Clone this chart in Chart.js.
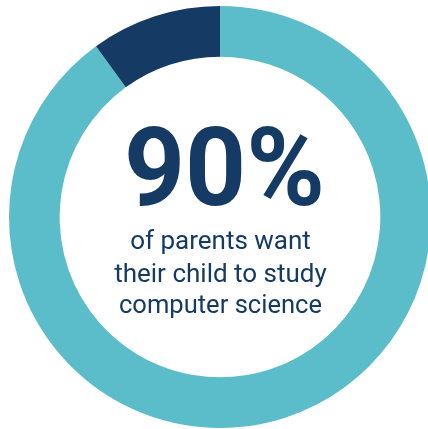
<!DOCTYPE html>
<html>
<head>
<meta charset="utf-8">
<script src="https://cdn.jsdelivr.net/npm/chart.js@4/dist/chart.umd.min.js"></script>
<style>
  html, body { margin: 0; padding: 0; background: #fff; overflow: hidden; }
  body { width: 428px; height: 429px; position: relative; }
  #wrap { position: absolute; left: 9px; top: 5.5px; width: 422px; height: 422px; }
</style>
</head>
<body>
<div id="wrap"><canvas id="donut"></canvas></div>
<script>
// share of parents
const labels = ["Want child to study CS", "Other"];
const values = [90, 10];
const colors = ["#5bbdc9", "#153b65"];

const headline = "90%";
const caption = ["of parents want", "their child to study", "computer science"];

const centerText = {
  id: "centerText",
  afterDraw(chart) {
    const ctx = chart.ctx;
    const arc = chart.getDatasetMeta(0).data[0];
    const cx = arc.x, cy = arc.y;
    ctx.save();
    ctx.fillStyle = "#153b65";
    ctx.textAlign = "center";
    ctx.textBaseline = "alphabetic";
    ctx.font = "bold 110px Roboto";
    ctx.fillText(headline, cx + 4.5, cy - 12.5, 201);
    ctx.font = "26px Roboto";
    const widths = [183, 215, 203];
    const base = [31.5, 64.5, 95.5];
    caption.forEach((t, i) => ctx.fillText(t, cx + 0.5, cy + base[i], widths[i]));
    ctx.restore();
  }
};

new Chart(document.getElementById("donut"), {
  type: "doughnut",
  data: {
    labels: labels,
    datasets: [{ data: values, backgroundColor: colors, borderWidth: 0 }]
  },
  options: {
    responsive: true,
    maintainAspectRatio: false,
    animation: false,
    cutout: "76%",
    plugins: { legend: { display: false }, tooltip: { enabled: false } }
  },
  plugins: [centerText]
});
</script>
</body>
</html>
